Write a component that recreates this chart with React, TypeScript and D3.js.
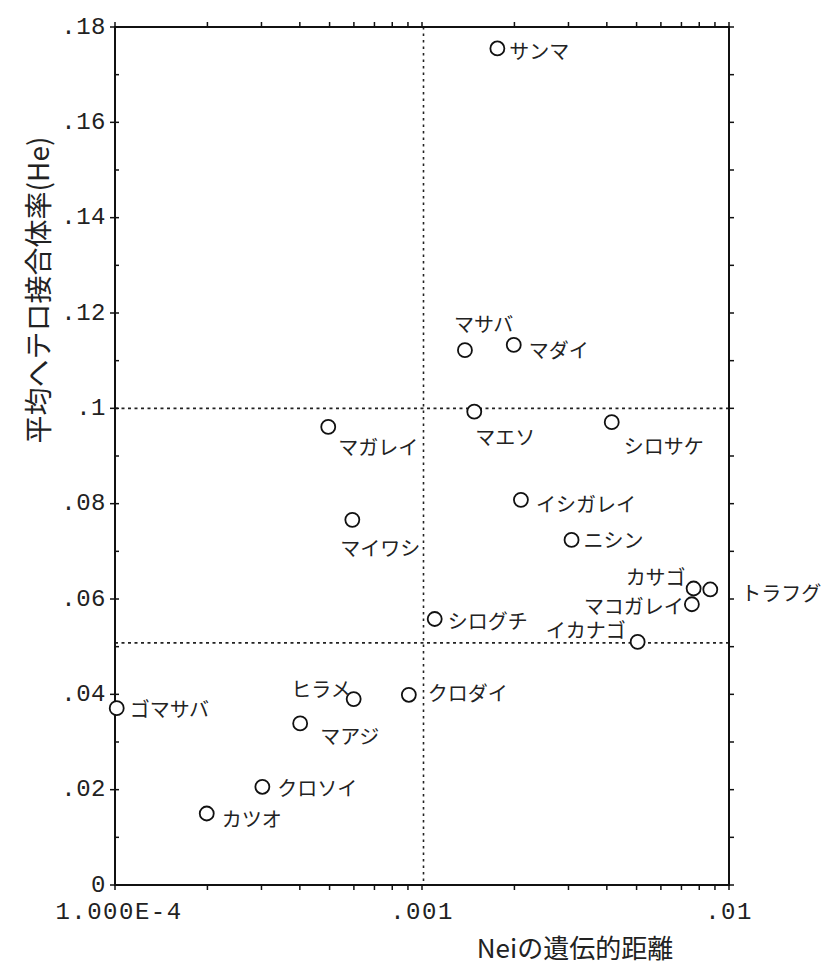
import React from 'react';
import * as d3 from 'd3';

// ---- data ----
const species = ['サンマ', 'マサバ', 'マダイ', 'マエソ', 'シロサケ', 'マガレイ', 'イシガレイ', 'マイワシ', 'ニシン', 'カサゴ', 'トラフグ', 'マコガレイ', 'シログチ', 'イカナゴ', 'ゴマサバ', 'ヒラメ', 'クロダイ', 'マアジ', 'クロソイ', 'カツオ'];
const neiDistance = [0.00176, 0.00138, 0.00199, 0.00148, 0.00415, 0.000495, 0.0021, 0.000593, 0.00307, 0.00767, 0.00869, 0.00757, 0.0011, 0.00504, 0.0001013, 0.000599, 0.000906, 0.000401, 0.000302, 0.000199];
const heterozygosity = [0.1755, 0.1122, 0.1133, 0.0993, 0.0971, 0.0961, 0.0808, 0.0766, 0.0724, 0.0622, 0.062, 0.0589, 0.0558, 0.051, 0.0371, 0.039, 0.0399, 0.0339, 0.0206, 0.015];
const yTickValues = [0, 0.02, 0.04, 0.06, 0.08, 0.1, 0.12, 0.14, 0.16, 0.18];
const yTickLabels = ['0', '.02', '.04', '.06', '.08', '.1', '.12', '.14', '.16', '.18'];
const xTickValues = [0.0001, 0.001, 0.01];
const xTickLabels = ['1.000E-4', '.001', '.01'];
const refDistance = [0.001];
const refHe = [0.1, 0.0508];
const xTitle = 'Neiの遺伝的距離';
const yTitle = '平均ヘテロ接合体率(He)';

// label placement (layout only)
const labelPlacement: { dx: number; dy: number; anchor: string }[] = [
  { dx: 12, dy: 2, anchor: 'start' },
  { dx: -11, dy: -27, anchor: 'start' },
  { dx: 15, dy: 5, anchor: 'start' },
  { dx: 1, dy: 25, anchor: 'start' },
  { dx: 12, dy: 23, anchor: 'start' },
  { dx: 10, dy: 20, anchor: 'start' },
  { dx: 15, dy: 4, anchor: 'start' },
  { dx: -12, dy: 28, anchor: 'start' },
  { dx: 12, dy: 0, anchor: 'start' },
  { dx: -8, dy: -12, anchor: 'end' },
  { dx: 31, dy: 3, anchor: 'start' },
  { dx: -8, dy: 1, anchor: 'end' },
  { dx: 13, dy: 1, anchor: 'start' },
  { dx: -12, dy: -12, anchor: 'end' },
  { dx: 13, dy: 0, anchor: 'start' },
  { dx: -3, dy: -11, anchor: 'end' },
  { dx: 19, dy: -2, anchor: 'start' },
  { dx: 20, dy: 12, anchor: 'start' },
  { dx: 15, dy: 1, anchor: 'start' },
  { dx: 15, dy: 5, anchor: 'start' },
];

const W = 827;
const H = 966;
const L = 115, R = 729, T = 27, B = 885;

export default function App() {
  const x = d3.scaleLog().domain([0.0001, 0.01]).range([L, R]);
  const y = d3.scaleLinear().domain([0, 0.18]).range([B, T]);
  const xMinor = x.ticks();
  const yMinor = y.ticks(18);
  const labelFont = '"Noto Sans CJK JP", "Noto Sans", sans-serif';
  const monoFont = '"Liberation Mono", "DejaVu Sans Mono", monospace';

  return (
    <svg width={W} height={H} style={{ position: 'absolute', left: 0, top: 0, background: '#fff' }}>
      <rect x={0} y={0} width={W} height={H} fill="#fff" />
      {/* reference dashed lines */}
      {refDistance.map((d, i) => (
        <line key={'rv' + i} x1={x(d) + 1.5} x2={x(d) + 1.5} y1={T} y2={B} stroke="#222" strokeWidth={1.6} strokeDasharray="2.5,4" />
      ))}
      {refHe.map((d, i) => (
        <line key={'rh' + i} x1={L} x2={R} y1={y(d)} y2={y(d)} stroke="#222" strokeWidth={1.6} strokeDasharray="3,3.5" />
      ))}
      {/* frame */}
      <rect x={L} y={T} width={R - L} height={B - T} fill="none" stroke="#111" strokeWidth={2} />
      {/* x ticks bottom & top */}
      {xMinor.map((t, i) => (
        <g key={'xt' + i}>
          <line x1={x(t)} x2={x(t)} y1={B} y2={B + 5} stroke="#111" strokeWidth={1.5} />
          <line x1={x(t)} x2={x(t)} y1={T} y2={T - 5} stroke="#111" strokeWidth={1.5} />
        </g>
      ))}
      {/* y ticks */}
      {yMinor.map((t, i) => (
        <g key={'yt' + i}>
          <line x1={L} x2={L + 4} y1={y(t)} y2={y(t)} stroke="#111" strokeWidth={1.5} />
          <line x1={R} x2={R + 5} y1={y(t)} y2={y(t)} stroke="#111" strokeWidth={1.5} />
        </g>
      ))}
      {yTickValues.map((t, i) => (
        <g key={'ym' + i}>
          <line x1={L - 5} x2={L} y1={y(t)} y2={y(t)} stroke="#111" strokeWidth={1.5} />
          <text x={L - 9} y={y(t)} textAnchor="end" dominantBaseline="central" fontFamily={monoFont} fontSize={24} fill="#222" letterSpacing={0.5}>
            {yTickLabels[i]}
          </text>
        </g>
      ))}
      {xTickValues.map((t, i) => (
        <text key={'xl' + i} x={x(t) + (i === 0 ? 4 : 0)} y={912} textAnchor="middle" dominantBaseline="central" fontFamily={monoFont} fontSize={24} fill="#222" letterSpacing={1.5}>
          {xTickLabels[i]}
        </text>
      ))}
      {/* points */}
      {species.map((s, i) => {
        const cx = x(neiDistance[i]);
        const cy = y(heterozygosity[i]);
        const p = labelPlacement[i];
        return (
          <g key={s}>
            <circle cx={cx} cy={cy} r={7} fill="#fff" stroke="#111" strokeWidth={1.8} />
            <text x={cx + p.dx} y={cy + p.dy} textAnchor={p.anchor as any} dominantBaseline="central" fontFamily={labelFont} fontSize={20} fill="#222">
              {s}
            </text>
          </g>
        );
      })}
      {/* axis titles */}
      <text x={575} y={946} textAnchor="middle" dominantBaseline="central" fontFamily={labelFont} fontSize={26} fill="#222">
        {xTitle}
      </text>
      <text transform={`translate(37,290) rotate(-90)`} textAnchor="middle" dominantBaseline="central" fontFamily={labelFont} fontSize={28} fill="#222">
        {yTitle}
      </text>
    </svg>
  );
}
